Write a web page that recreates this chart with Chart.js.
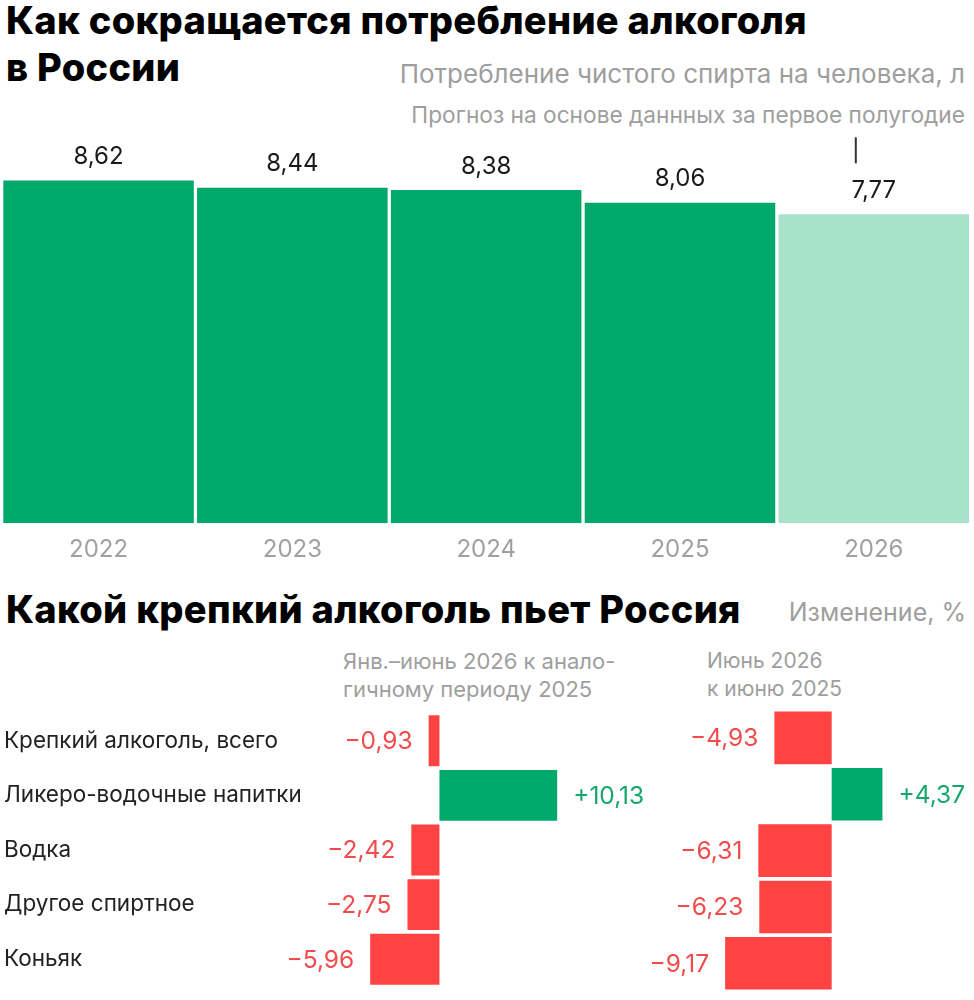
<!DOCTYPE html>
<html lang="ru">
<head>
<meta charset="utf-8">
<title>Потребление алкоголя в России</title>
<script src="https://cdn.jsdelivr.net/npm/chart.js@4.4.1/dist/chart.umd.min.js"></script>
<style>
  html, body { margin: 0; padding: 0; background: #fff; }
  body { width: 974px; height: 1000px; position: relative; overflow: hidden;
         font-family: Inter, 'Noto Sans', sans-serif; }
  .abs { position: absolute; white-space: nowrap; }
  .title { left: 6px; font-weight: 800; color: #000; letter-spacing: 0.3px; }
  .gray { color: #9e9e9e; }
  .box { position: absolute; }
</style>
</head>
<body>
  <div class="abs title" style="top:-3px; font-size:38px; line-height:47.4px;">Как сокращается потребление алкоголя<br>в России</div>
  <div class="abs gray" style="right:9px; top:60.5px; font-size:26px; line-height:26px;">Потребление чистого спирта на человека, л</div>
  <div class="abs gray" style="right:9px; top:104.4px; font-size:22.7px; line-height:22.7px;">Прогноз на основе даннных за первое полугодие</div>

  <div class="box" style="left:0; top:130px; width:974px; height:450px;"><canvas id="chartYears"></canvas></div>

  <div class="abs title" style="top:590px; font-size:38px; line-height:38px;">Какой крепкий алкоголь пьет Россия</div>
  <div class="abs gray" style="right:8px; top:600px; font-size:25px; line-height:25px;">Изменение, %</div>
  <div class="abs gray" style="left:343px; top:647px; font-size:22px; line-height:28px;">Янв.–июнь 2026 к анало-<br>гичному периоду 2025</div>
  <div class="abs gray" style="left:707px; top:647px; font-size:21px; line-height:28px;">Июнь 2026<br>к июню 2025</div>

  <div class="box" style="left:0; top:700px; width:680px; height:300px;"><canvas id="chartHalf"></canvas></div>
  <div class="box" style="left:590px; top:700px; width:384px; height:300px;"><canvas id="chartJune"></canvas></div>

<script>
// Потребление на душу населения, л чистого спирта
const years = ['2022', '2023', '2024', '2025', '2026'];
const perCapita = [8.62, 8.44, 8.38, 8.06, 7.77];
const forecastYear = '2026';

// Изменение продаж крепкого алкоголя, %
const drinks = ['Крепкий алкоголь, всего', 'Ликеро-водочные напитки', 'Водка', 'Другое спиртное', 'Коньяк'];
const halfYearChange = [-0.93, 10.13, -2.42, -2.75, -5.96];
const juneChange = [-4.93, 4.37, -6.31, -6.23, -9.17];

const green = '#00a86b';
const greenLight = '#a7e2c9';
const red = '#ff4242';
const redText = '#f24b4b';
const greenText = '#14a76c';
const fontFamily = 'Inter, "Noto Sans", sans-serif';

const comma = v => Math.abs(v).toFixed(2).replace('.', ',');
const signed = v => (v < 0 ? '−' : '+') + comma(v);

// подписи значений над/рядом со столбиками
const valueLabels = {
    id: 'valueLabels',
    afterDatasetsDraw(chart, args, opts) {
        const ctx = chart.ctx;
        const meta = chart.getDatasetMeta(0);
        const values = chart.data.datasets[0].data;
        ctx.save();
        ctx.font = opts.font;
        meta.data.forEach((bar, i) => {
            const v = values[i];
            if (opts.horizontal) {
                ctx.textBaseline = 'middle';
                ctx.fillStyle = v < 0 ? redText : greenText;
                ctx.textAlign = v < 0 ? 'right' : 'left';
                ctx.fillText(signed(v), bar.x + (v < 0 ? -16 : 16), bar.y + 1);
            } else {
                ctx.textBaseline = 'alphabetic';
                ctx.textAlign = 'center';
                ctx.fillStyle = '#1a1a1a';
                ctx.fillText(comma(v), bar.x, bar.y - 16.5);
                if (chart.data.labels[i] === forecastYear) {
                    ctx.strokeStyle = '#333';
                    ctx.lineWidth = 2;
                    ctx.beginPath();
                    ctx.moveTo(bar.x - 18, bar.y - 77);
                    ctx.lineTo(bar.x - 18, bar.y - 51);
                    ctx.stroke();
                }
            }
        });
        ctx.restore();
    },
};

function initCharts() {
    new Chart(document.getElementById('chartYears'), {
        type: 'bar',
        data: {
            labels: years,
            datasets: [{
                data: perCapita,
                backgroundColor: years.map(y => (y === forecastYear ? greenLight : green)),
                borderWidth: 0,
                categoryPercentage: 1,
                barPercentage: 0.983,
            }],
        },
        options: {
            responsive: true,
            maintainAspectRatio: false,
            animation: false,
            layout: { padding: { left: 1.65, right: 3.3, top: 0, bottom: 16.7 } },
            plugins: {
                legend: { display: false },
                tooltip: { enabled: false },
                valueLabels: { font: '24px ' + fontFamily, horizontal: false },
            },
            scales: {
                x: {
                    grid: { display: false, drawTicks: false },
                    border: { display: false },
                    ticks: { color: '#a0a0a0', padding: 12.5, font: { family: fontFamily, size: 24 } },
                    afterFit: scale => { scale.height = 40; },
                },
                y: { display: false, min: 0, max: 9.89 },
            },
        },
        plugins: [valueLabels],
    });

    const drinkChart = (id, values, xMin, xMax, showNames) => new Chart(document.getElementById(id), {
        type: 'bar',
        data: {
            labels: drinks,
            datasets: [{
                data: values,
                backgroundColor: values.map(v => (v < 0 ? red : green)),
                borderWidth: 0,
                categoryPercentage: 1,
                barPercentage: 0.933,
            }],
        },
        options: {
            indexAxis: 'y',
            responsive: true,
            maintainAspectRatio: false,
            animation: false,
            layout: { padding: { left: showNames ? 4 : 0, right: 0, top: 9.7, bottom: 8.5 } },
            plugins: {
                legend: { display: false },
                tooltip: { enabled: false },
                valueLabels: { font: '24.5px ' + fontFamily, horizontal: true },
            },
            scales: {
                x: { display: false, min: xMin, max: xMax },
                y: showNames ? {
                    grid: { display: false, drawTicks: false },
                    border: { display: false },
                    ticks: { crossAlign: 'far', padding: 0, color: '#222', font: { family: fontFamily, size: 22.5 } },
                    afterFit: scale => { scale.width = 296; },
                } : { display: false },
            },
        },
        plugins: [valueLabels],
    });

    drinkChart('chartHalf', halfYearChange, -12, 20.7, true);
    drinkChart('chartJune', juneChange, -20.8, 12.25, false);
}

if (document.readyState === 'loading') {
    document.addEventListener('DOMContentLoaded', initCharts);
} else {
    initCharts();
}
</script>
</body>
</html>
